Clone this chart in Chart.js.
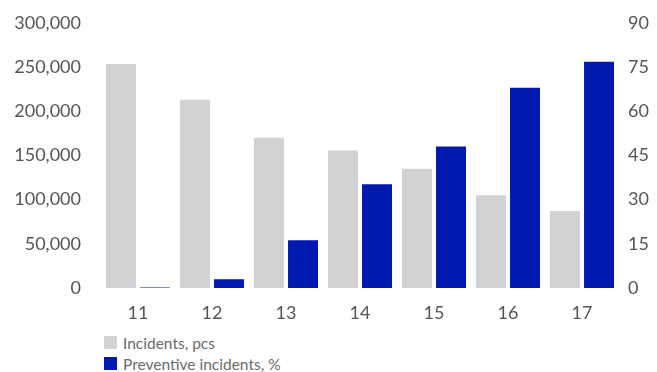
<!DOCTYPE html>
<html>
<head>
<meta charset="utf-8">
<script src="https://cdn.jsdelivr.net/npm/chart.js@4"></script>
<style>
  body { margin: 0; background: #fff; }
  #wrap { position: relative; width: 657px; height: 372px; }
  #chartBox { position: absolute; left: 0; top: 0; width: 657px; height: 325px; }
  #legend { position: absolute; left: 104px; top: 332px; font-family: Lato, sans-serif; font-size: 15.5px; color: #6b6b6b; }
  #legend div { display: flex; align-items: center; height: 21px; }
  #legend span.box { display: inline-block; width: 13px; height: 13px; margin-right: 6px; }
</style>
</head>
<body>
<div id="wrap">
  <div id="chartBox"><canvas id="chart"></canvas></div>
  <div id="legend"></div>
</div>
<script>
// data
const categories = ['11', '12', '13', '14', '15', '16', '17'];
const incidents = [253500, 213000, 170000, 155500, 135000, 105000, 87000];
const preventivePct = [0.15, 3, 16.2, 35.2, 48, 68, 76.8];
const leftTicks = [0, 50000, 100000, 150000, 200000, 250000, 300000];
const rightTicks = [0, 15, 30, 45, 60, 75, 90];

const grey = '#d1d2d4';
const blue = '#0019ae';
const textColor = '#555555';

const ctx = document.getElementById('chart').getContext('2d');
const chart = new Chart(ctx, {
  type: 'bar',
  data: {
    labels: categories,
    datasets: [
      { label: 'Incidents, pcs', data: incidents, backgroundColor: grey, yAxisID: 'y' },
      { label: 'Preventive incidents, %', data: preventivePct, backgroundColor: blue, yAxisID: 'y1' }
    ]
  },
  options: {
    responsive: true,
    maintainAspectRatio: false,
    animation: false,
    categoryPercentage: 0.92,
    barPercentage: 0.88,
    layout: { padding: { top: 22 } },
    plugins: { legend: { display: false }, tooltip: { enabled: false } },
    scales: {
      x: {
        grid: { display: false },
        border: { display: false },
        ticks: { color: textColor, font: { family: 'Lato', size: 18 }, padding: 6 },
        afterFit: s => { s.height = 37; }
      },
      y: {
        position: 'left',
        min: 0, max: 300000,
        grid: { display: false },
        border: { display: false },
        afterBuildTicks: s => { s.ticks = leftTicks.map(v => ({ value: v })); },
        ticks: {
          color: textColor, font: { family: 'Lato', size: 18 }, padding: 12,
          callback: v => v.toLocaleString('en-US')
        },
        afterFit: s => { s.width = 101; }
      },
      y1: {
        position: 'right',
        min: 0, max: 90,
        grid: { display: false },
        border: { display: false },
        afterBuildTicks: s => { s.ticks = rightTicks.map(v => ({ value: v })); },
        ticks: { color: textColor, font: { family: 'Lato', size: 18 }, padding: 1 },
        afterFit: s => { s.width = 38; }
      }
    }
  }
});

// vertical legend under the chart
const legendEl = document.getElementById('legend');
chart.data.datasets.forEach(ds => {
  const row = document.createElement('div');
  const box = document.createElement('span');
  box.className = 'box';
  box.style.background = ds.backgroundColor;
  row.appendChild(box);
  row.appendChild(document.createTextNode(ds.label));
  legendEl.appendChild(row);
});
</script>
</body>
</html>
